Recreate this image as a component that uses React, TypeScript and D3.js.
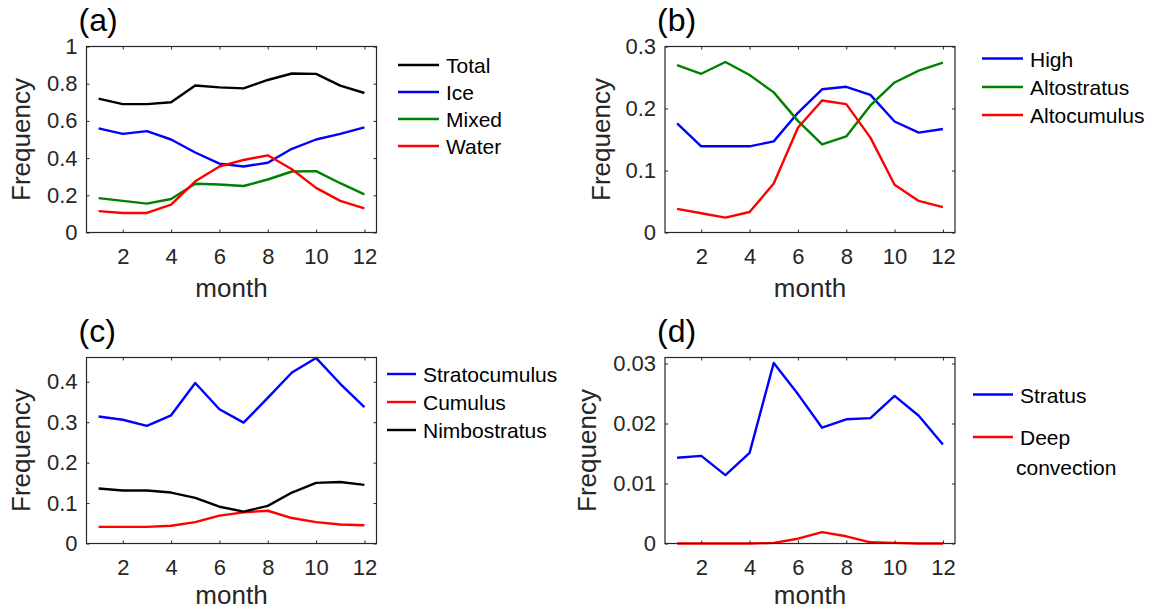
import React, { useRef, useEffect } from "react";
import * as d3 from "d3";

// monthly frequencies
const months = [1, 2, 3, 4, 5, 6, 7, 8, 9, 10, 11, 12];
const xTicks = [2, 4, 6, 8, 10, 12];

// (a) phase
const totalA = [0.72, 0.69, 0.69, 0.70, 0.79, 0.78, 0.775, 0.82, 0.855, 0.853, 0.79, 0.75];
const iceA = [0.56, 0.53, 0.545, 0.50, 0.43, 0.37, 0.355, 0.375, 0.45, 0.50, 0.53, 0.565];
const mixedA = [0.185, 0.17, 0.155, 0.18, 0.262, 0.258, 0.25, 0.285, 0.328, 0.33, 0.265, 0.205];
const waterA = [0.115, 0.105, 0.105, 0.15, 0.275, 0.355, 0.39, 0.415, 0.34, 0.24, 0.17, 0.13];
const yTicksA = [0, 0.2, 0.4, 0.6, 0.8, 1];

// (b) high / mid level
const highB = [0.176, 0.139, 0.139, 0.139, 0.147, 0.193, 0.231, 0.235, 0.222, 0.179, 0.161, 0.167];
const altostratusB = [0.27, 0.256, 0.275, 0.254, 0.226, 0.18, 0.142, 0.155, 0.205, 0.242, 0.261, 0.274];
const altocumulusB = [0.038, 0.031, 0.024, 0.033, 0.079, 0.169, 0.213, 0.207, 0.153, 0.077, 0.051, 0.041];
const yTicksB = [0, 0.1, 0.2, 0.3];

// (c) low level
const stratocumulusC = [0.314, 0.306, 0.291, 0.317, 0.397, 0.332, 0.299, 0.36, 0.423, 0.459, 0.395, 0.337];
const cumulusC = [0.041, 0.041, 0.041, 0.044, 0.053, 0.069, 0.077, 0.081, 0.063, 0.053, 0.047, 0.045];
const nimbostratusC = [0.136, 0.131, 0.131, 0.126, 0.113, 0.091, 0.079, 0.093, 0.126, 0.15, 0.152, 0.145];
const yTicksC = [0, 0.1, 0.2, 0.3, 0.4];

// (d) stratus & deep convection
const stratusD = [0.0143, 0.0146, 0.0114, 0.0151, 0.0301, 0.0249, 0.0193, 0.0207, 0.0209, 0.0246, 0.0213, 0.0165];
const deepConvD = [0, 0, 0, 0, 0.0001, 0.0008, 0.0019, 0.0012, 0.0002, 0.0001, 0, 0];
const yTicksD = [0, 0.01, 0.02, 0.03];

const FONT = "'Liberation Sans', Arial, Helvetica, sans-serif";
const AX = "#262626";

const panels = [
  {
    tag: "(a)", left: 86.5, top: 46.5, ymax: 1, yTicks: yTicksA, ylabX: 30, xlabY: 64,
    series: [
      { name: ["Total"], color: "#000000", values: totalA },
      { name: ["Ice"], color: "#0000ff", values: iceA },
      { name: ["Mixed"], color: "#008000", values: mixedA },
      { name: ["Water"], color: "#ff0000", values: waterA },
    ],
    legend: { x1: 398, x2: 439, tx: 446, ys: [65, 92, 119, 146] },
  },
  {
    tag: "(b)", left: 665, top: 46.5, ymax: 0.3, yTicks: yTicksB, ylabX: 609.5, xlabY: 64,
    series: [
      { name: ["High"], color: "#0000ff", values: highB },
      { name: ["Altostratus"], color: "#008000", values: altostratusB },
      { name: ["Altocumulus"], color: "#ff0000", values: altocumulusB },
    ],
    legend: { x1: 982, x2: 1023, tx: 1030, ys: [58.5, 87, 115] },
  },
  {
    tag: "(c)", left: 86.5, top: 357.5, ymax: 0.46, yTicks: yTicksC, ylabX: 30, xlabY: 60,
    series: [
      { name: ["Stratocumulus"], color: "#0000ff", values: stratocumulusC },
      { name: ["Cumulus"], color: "#ff0000", values: cumulusC },
      { name: ["Nimbostratus"], color: "#000000", values: nimbostratusC },
    ],
    legend: { x1: 387, x2: 416, tx: 423, ys: [374, 402, 430] },
  },
  {
    tag: "(d)", left: 665, top: 357.5, ymax: 0.031, yTicks: yTicksD, ylabX: 595.5, xlabY: 60,
    series: [
      { name: ["Stratus"], color: "#0000ff", values: stratusD },
      { name: ["Deep", "convection"], color: "#ff0000", values: deepConvD },
    ],
    legend: { x1: 973, x2: 1013, tx: 1020, ys: [394.5, 437] },
  },
];

const W = 290;
const H = 186;

const App = () => {
  const svgRef = useRef(null);

  useEffect(() => {
    const svg = d3.select(svgRef.current);
    svg.selectAll("*").remove();

    panels.forEach(p => {
      const xScale = d3.scaleLinear().domain([0.5, 12.5]).range([0, W]);
      const yScale = d3.scaleLinear().domain([0, p.ymax]).range([H, 0]);
      const g = svg.append("g").attr("transform", `translate(${p.left},${p.top})`);

      // data lines
      const line = d3.line().x((_, i) => xScale(months[i])).y(d => yScale(d));
      p.series.forEach(s => {
        g.append("path")
          .datum(s.values)
          .attr("d", line)
          .attr("fill", "none")
          .attr("stroke", s.color)
          .attr("stroke-width", 2.4)
          .attr("stroke-linejoin", "round");
      });

      // axes, ticks pointing inward on all four sides
      const fmt = d => String(+d.toFixed(3));
      const bottom = g.append("g").attr("transform", `translate(0,${H})`)
        .call(d3.axisBottom(xScale).tickValues(xTicks).tickSizeInner(-3).tickSizeOuter(0).tickPadding(16));
      const top = g.append("g")
        .call(d3.axisTop(xScale).tickValues(xTicks).tickSizeInner(-3).tickSizeOuter(0).tickFormat(() => ""));
      const left = g.append("g")
        .call(d3.axisLeft(yScale).tickValues(p.yTicks).tickSizeInner(-3).tickSizeOuter(0).tickPadding(9).tickFormat(fmt));
      const right = g.append("g").attr("transform", `translate(${W},0)`)
        .call(d3.axisRight(yScale).tickValues(p.yTicks).tickSizeInner(-3).tickSizeOuter(0).tickFormat(() => ""));

      [bottom, top, left, right].forEach(a => {
        a.select(".domain").remove();
        a.selectAll("line").attr("stroke", AX);
        a.selectAll("text")
          .attr("fill", AX)
          .attr("font-family", FONT)
          .attr("font-size", 22);
      });

      g.append("rect")
        .attr("x", 0).attr("y", 0).attr("width", W).attr("height", H)
        .attr("fill", "none").attr("stroke", AX).attr("stroke-width", 1.2);

      // axis labels
      g.append("text")
        .attr("x", W / 2).attr("y", H + p.xlabY)
        .attr("text-anchor", "middle")
        .attr("font-family", FONT).attr("font-size", 26).attr("fill", AX)
        .text("month");

      svg.append("text")
        .attr("transform", `translate(${p.ylabX},${p.top + H / 2}) rotate(-90)`)
        .attr("text-anchor", "middle")
        .attr("font-family", FONT).attr("font-size", 26).attr("fill", AX)
        .text("Frequency");

      // panel tag
      svg.append("text")
        .attr("x", p.left - 8).attr("y", p.top - 15.5)
        .attr("font-family", FONT).attr("font-size", 32).attr("fill", "#000")
        .text(p.tag);

      // legend
      const lg = p.legend;
      p.series.forEach((s, i) => {
        const y = lg.ys[i];
        svg.append("line")
          .attr("x1", lg.x1).attr("x2", lg.x2).attr("y1", y).attr("y2", y)
          .attr("stroke", s.color).attr("stroke-width", 2.4);
        const t = svg.append("text")
          .attr("font-family", FONT).attr("font-size", 21).attr("fill", "#000");
        s.name.forEach((ln, j) => {
          t.append("tspan")
            .attr("x", j === 0 ? lg.tx : lg.tx - 4)
            .attr("y", y + 1 + j * 30)
            .attr("dy", "0.35em")
            .text(ln);
        });
      });
    });
  }, []);

  return (
    <div>
      <svg ref={svgRef} width={1156} height={610}
        style={{ position: "absolute", left: 0, top: 0, background: "#fff" }}>
      </svg>
    </div>
  );
};

export default App;
